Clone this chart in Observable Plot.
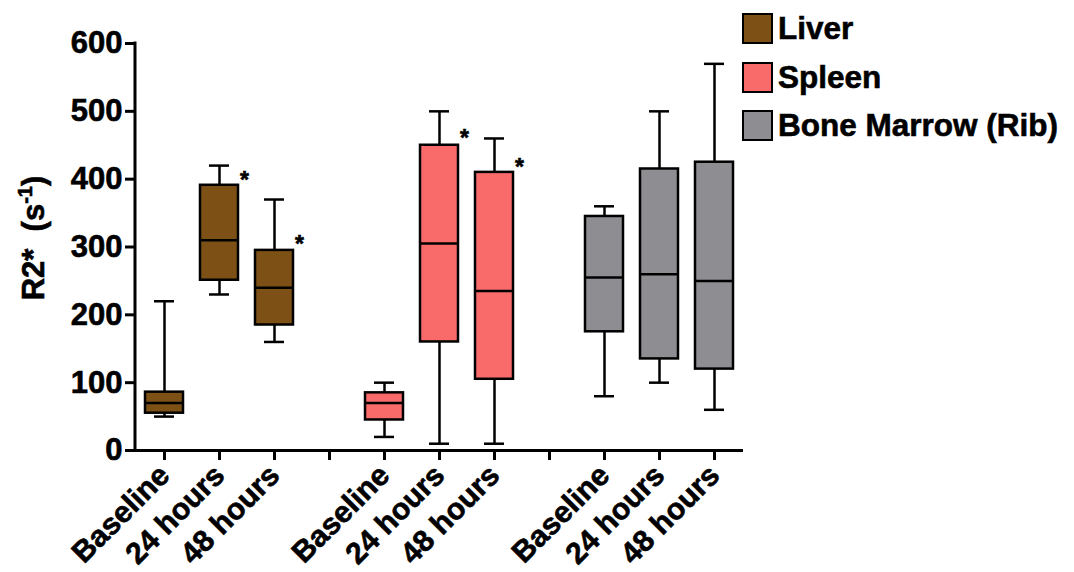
<!DOCTYPE html>
<html><head><meta charset="utf-8">
<script src="https://cdn.jsdelivr.net/npm/d3@7"></script>
<script src="https://cdn.jsdelivr.net/npm/@observablehq/plot@0.6"></script>
<style>
body{margin:0;background:#fff;font-family:"Liberation Sans",Arial,sans-serif;}
#wrap{position:relative;width:1074px;height:572px;}
#legend{position:absolute;left:742px;top:13px;}
.item{display:flex;align-items:center;height:31px;margin-bottom:17.5px;font-weight:bold;font-size:31.5px;color:#000;-webkit-text-stroke:0.6px #000;}
.sw{box-sizing:border-box;width:31px;height:31px;border:2.5px solid #000;margin-right:5px;}
</style></head><body><div id="wrap"><div id="legend"></div></div>
<script>
const organs = ["Liver", "Spleen", "Bone Marrow (Rib)"];
const timepoints = ["Baseline", "24 hours", "48 hours"];
const colors = ["#7d5116", "#f96b6b", "#8e8d92"];
const whiskerLow  = [50, 230, 160,  20, 10, 10,   80, 100, 60];
const q1          = [55, 251, 185,  45, 160, 105, 175, 135, 120];
const median      = [70, 310, 240,  70, 305, 235, 255, 260, 250];
const q3          = [86, 391, 295,  85, 450, 410, 345, 415, 425];
const whiskerHigh = [220, 420, 370, 100, 500, 460, 360, 500, 570];
const starValue   = [null, 407, 313, null, 468, 426, null, null, null];
const yTicks = [0, 100, 200, 300, 400, 500, 600];

const rows = organs.flatMap((o, i) => timepoints.map((t, j) => {
  const k = i * 3 + j;
  return {key: o + "|" + t, organ: o, time: t, low: whiskerLow[k], q1: q1[k],
          med: median[k], q3: q3[k], high: whiskerHigh[k], star: starValue[k]};
}));
const domain = [];
organs.forEach((o, i) => {
  timepoints.forEach(t => domain.push(o + "|" + t));
  if (i < organs.length - 1) domain.push("gap" + i);
});

const sw = 2.5;
const chart = Plot.plot({
  width: 1074, height: 572,
  marginLeft: 135, marginRight: 331, marginTop: 43, marginBottom: 122,
  style: {fontFamily: "'Liberation Sans', Arial, sans-serif", background: "#fff", color: "#000"},
  x: {type: "band", domain, paddingInner: 0.31, paddingOuter: 0.155, axis: null},
  y: {domain: [0, 600], axis: null},
  color: {domain: organs, range: colors},
  marks: [
    Plot.ruleX(rows, {x: "key", y1: "low", y2: "q1", stroke: "#000", strokeWidth: sw}),
    Plot.ruleX(rows, {x: "key", y1: "q3", y2: "high", stroke: "#000", strokeWidth: sw}),
    Plot.tickY(rows, {x: "key", y: "low", insetLeft: 9, insetRight: 9, stroke: "#000", strokeWidth: sw}),
    Plot.tickY(rows, {x: "key", y: "high", insetLeft: 9, insetRight: 9, stroke: "#000", strokeWidth: sw}),
    Plot.barY(rows, {x: "key", y1: "q1", y2: "q3", fill: "organ", stroke: "#000", strokeWidth: sw}),
    Plot.tickY(rows, {x: "key", y: "med", stroke: "#000", strokeWidth: sw}),
    Plot.text(rows.filter(d => d.star != null), {x: "key", y: "star", text: () => "*", dx: 25, dy: 6, fontSize: 23, fontWeight: "bold", fill: "#000"}),
    Plot.axisY({ticks: yTicks, tickSize: 10, tickPadding: 3, fontSize: 31, fontWeight: "bold", strokeWidth: 3, label: null}),
    Plot.axisX({tickRotate: -45, tickSize: 10, tickPadding: 10, fontSize: 30, fontWeight: "bold", strokeWidth: 3, label: null,
      tickFormat: k => k.startsWith("gap") ? "" : k.split("|")[1]}),
    Plot.ruleY([0], {stroke: "#000", strokeWidth: 3})
  ]
});
document.getElementById("wrap").prepend(chart);

const svg = d3.select(chart);
// y-axis line through the library's y scale
const ys = chart.scale("y");
svg.append("line")
  .attr("x1", 135).attr("x2", 135)
  .attr("y1", ys.apply(0) + 1.5).attr("y2", ys.apply(600) - 1.5)
  .attr("stroke", "#000").attr("stroke-width", 3);

// y-axis title with superscript
const t = svg.append("text")
  .attr("transform", "translate(44,238) rotate(-90)")
  .attr("text-anchor", "middle")
  .attr("font-size", 31).attr("font-weight", "bold").attr("fill", "#000")
  .style("white-space", "pre");
t.append("tspan").text("R2*\u00A0\u00A0(s");
t.append("tspan").attr("dy", -12).attr("font-size", 20).text("-1");
t.append("tspan").attr("dy", 12).text(")");

// heavier text like the reference
svg.selectAll("text").attr("stroke", "#000").attr("stroke-width", 0.6);

// legend
const lg = d3.select("#legend");
organs.forEach((o, i) => {
  const it = lg.append("div").attr("class", "item");
  it.append("div").attr("class", "sw").style("background", colors[i]);
  it.append("span").text(o);
});
</script></body></html>
